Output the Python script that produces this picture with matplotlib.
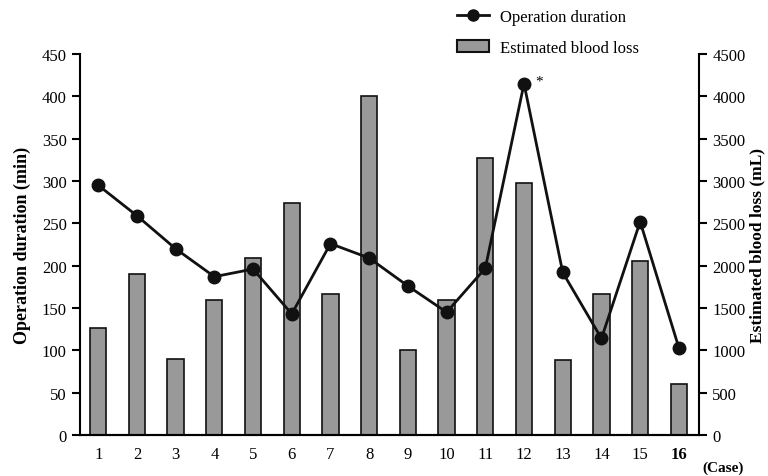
import matplotlib
matplotlib.use("Agg")
import matplotlib.pyplot as plt
from matplotlib.lines import Line2D
from matplotlib.patches import Patch

cases = list(range(1, 17))
case_labels = [str(c) for c in cases]
duration_min = [295, 259, 220, 187, 196, 143, 226, 209, 176, 145, 197, 415, 192, 114, 252, 103]
blood_loss_ml = [1260, 1900, 900, 1600, 2090, 2740, 1670, 4000, 1000, 1600, 3270, 2980, 880, 1670, 2050, 600]

plt.rcParams['font.family'] = ['Liberation Serif', 'DejaVu Serif']

fig = plt.figure(figsize=(7.68, 4.77), dpi=100)
ax = fig.add_axes([80/768, 1-436/477, (699-80)/768, (436-55)/477])
ax2 = ax.twinx()

ax2.bar(cases, blood_loss_ml, width=0.42, color='#999999', edgecolor='#111111', linewidth=1.2, zorder=1)
ax2.set_ylim(0, 4500)
ax2.set_yticks(range(0, 4501, 500))
ax2.set_ylabel('Estimated blood loss (mL)', fontsize=12.5, fontweight='bold', labelpad=3)

ax.set_zorder(ax2.get_zorder() + 1)
ax.patch.set_visible(False)
ax.plot(cases, duration_min, color='#111111', linewidth=2, marker='o', markersize=9, zorder=3)
ax.set_ylim(0, 450)
ax.set_yticks(range(0, 451, 50))
ax.set_ylabel('Operation duration (min)', fontsize=13, fontweight='bold', labelpad=8)
ax.set_xlim(0.53, 16.52)
ax.set_xticks(cases)
ax.set_xticklabels(case_labels)
ax.get_xticklabels()[-1].set_fontweight('bold')
ax.text(12.3, 418, '*', fontsize=11, ha='left', va='center')

for a in (ax, ax2):
    a.spines['top'].set_visible(False)
    for s in a.spines.values():
        s.set_linewidth(1.5)
    a.tick_params(labelsize=12, width=1.5, length=6)
ax.tick_params(axis='x', length=0, pad=8)
ax2.spines['left'].set_visible(False)
ax.spines['right'].set_visible(False)

fig.text(702/768, 1-468/477, '(Case)', fontsize=11, fontweight='bold', ha='left', va='center')

handles = [Line2D([0], [0], color='#111111', linewidth=2, marker='o', markersize=8),
           Patch(facecolor='#999999', edgecolor='#111111', linewidth=1.5)]
fig.legend(handles, ['Operation duration', 'Estimated blood loss'], loc='upper left',
           bbox_to_anchor=(442/768, 1.011), frameon=False, fontsize=12, labelspacing=0.9,
           handlelength=1.9, handletextpad=0.66)

fig.savefig('out.png', dpi=100)
